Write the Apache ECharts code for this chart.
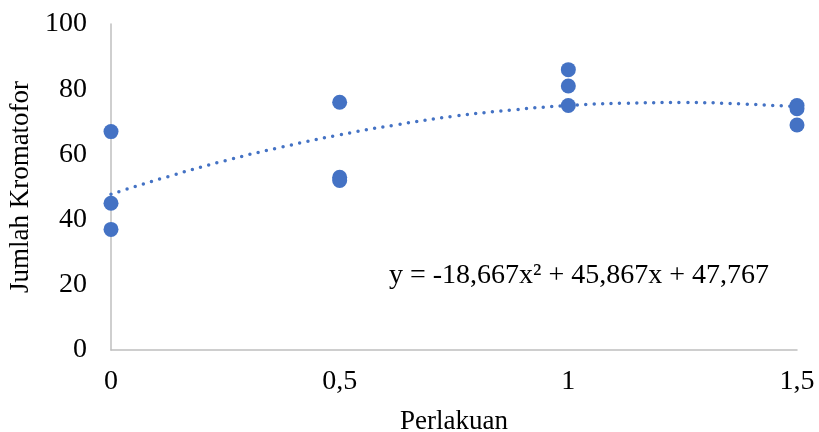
<!DOCTYPE html>
<html style="height: 100%">
	<head>
		<meta charset="utf-8">
	</head>
	<body style="height: 100%; margin: 0">
		<div id="container" style="width: 819px; height: 432px"></div>
		<script type="text/javascript" src="https://cdn.jsdelivr.net/npm/echarts@6/dist/echarts.min.js"></script>
		<script type="text/javascript">
			// observed points (Perlakuan, Jumlah Kromatofor)
			var perlakuan = [0, 0, 0, 0.5, 0.5, 0.5, 1, 1, 1, 1.5, 1.5, 1.5];
			var kromatofor = [67, 45, 37, 76, 53, 52, 86, 81, 75, 75, 74, 69];

			// dotted polynomial trendline
			var trendX = [0, 0.125, 0.25, 0.375, 0.5, 0.625, 0.75, 0.875, 1, 1.125, 1.25, 1.375, 1.5];
			var trendY = [47.8, 53.2, 58.1, 62.3, 66.0, 69.1, 71.7, 73.6, 75.0, 75.7, 75.9, 75.5, 74.6];

			var equation = 'y = -18,667x² + 45,867x + 47,767';

			var dom = document.getElementById("container");
			var myChart = echarts.init(dom);
			var font = '"Liberation Serif", "Times New Roman", serif';
			var blue = '#4472C4';

			var points = perlakuan.map(function(x, i) { return [x, kromatofor[i]]; });
			var trend = trendX.map(function(x, i) { return [x, trendY[i]]; });

			var option = {
				animation: false,
				textStyle: { fontFamily: font },
				grid: { left: 111, right: 22, top: 24, bottom: 82, outerBoundsMode: 'none', containLabel: false },
				xAxis: {
					type: 'value',
					min: 0,
					max: 1.5,
					interval: 0.5,
					name: 'Perlakuan',
					nameLocation: 'middle',
					nameGap: 58,
					nameTextStyle: { fontSize: 27, color: '#000', fontFamily: font },
					axisLine: { show: true, lineStyle: { color: '#BFBFBF', width: 1.5 } },
					axisTick: { show: false },
					splitLine: { show: false },
					axisLabel: {
						fontSize: 28, color: '#000', fontFamily: font, margin: 18,
						formatter: function(v) { return String(v).replace('.', ','); }
					}
				},
				yAxis: {
					type: 'value',
					min: 0,
					max: 100,
					interval: 20,
					name: 'Jumlah Kromatofor',
					nameLocation: 'middle',
					nameGap: 72,
					nameTextStyle: { fontSize: 27, color: '#000', fontFamily: font },
					axisLine: { show: true, lineStyle: { color: '#BFBFBF', width: 1.5 } },
					axisTick: { show: false },
					splitLine: { show: false },
					axisLabel: { fontSize: 28, color: '#000', fontFamily: font, margin: 24 }
				},
				series: [{
						type: 'line',
						data: trend,
						smooth: true,
						symbol: 'none',
						lineStyle: { color: blue, width: 3.5, type: [0, 8.5], cap: 'round' },
						z: 1
					},
					{
						type: 'scatter',
						data: points,
						symbolSize: 15,
						itemStyle: { color: blue, opacity: 1 },
						z: 2
					}
				],
				graphic: [{
					type: 'text',
					left: 389,
					top: 262,
					style: { text: equation, font: '28px ' + font, fill: '#000' }
				}]
			};

			myChart.setOption(option);
		</script>
	</body>
</html>
